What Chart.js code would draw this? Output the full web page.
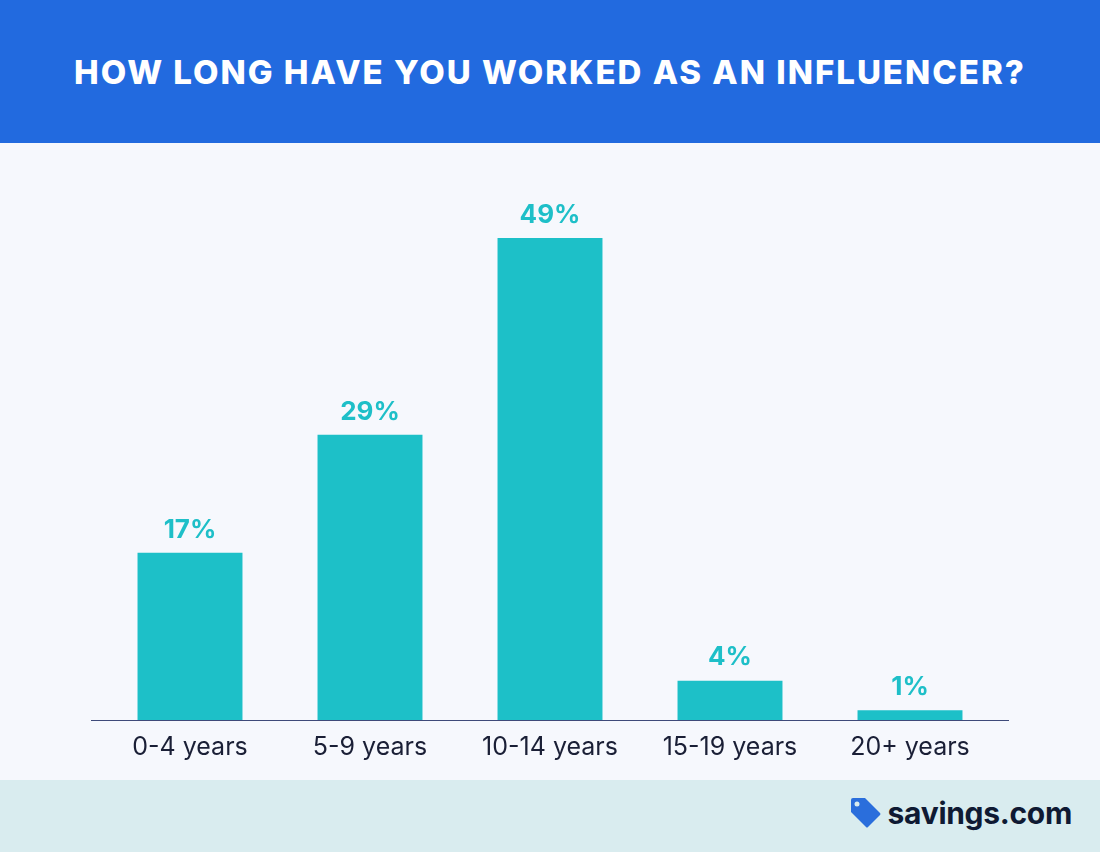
<!DOCTYPE html>
<html>
<head>
<meta charset="utf-8">
<script src="https://cdn.jsdelivr.net/npm/chart.js@4"></script>
<style>
  body { margin: 0; width: 1100px; height: 852px; overflow: hidden; font-family: Inter, "Open Sans", sans-serif; }
  #header { position: absolute; left: 0; top: 0; width: 1100px; height: 143px; background: #226ADF; color: #fff;
    font-weight: 800; font-size: 33px; text-align: center; line-height: 144px; letter-spacing: 2px; white-space: nowrap; }
  #main { position: absolute; left: 0; top: 143px; width: 1100px; height: 637px; background: #F6F8FD; }
  #footer { position: absolute; left: 0; top: 780px; width: 1100px; height: 72px; background: #D9ECEF; }
  #logo { position: absolute; right: 28px; top: 15px; display: flex; align-items: center; font-weight: 700; font-size: 30px; color: #0F1A33; letter-spacing: -0.3px; }
  #logo svg { margin-right: 6px; }
</style>
</head>
<body>
<div id="header">HOW LONG HAVE YOU WORKED AS AN INFLUENCER?</div>
<div id="main"><canvas id="chart" width="1100" height="637"></canvas></div>
<div id="footer">
  <div id="logo">
    <svg width="34" height="34" viewBox="0 0 34 34"><path d="M3 4 Q3 2 5 2 L17 2 L32 17 Q33 18 32 19 L20 31 Q19 32 18 31 L3 16 Z" fill="#2A6EDC"/><circle cx="9" cy="8" r="2.5" fill="#D9ECEF"/></svg>
    savings.com
  </div>
</div>
<script>
const categories = ['0-4 years', '5-9 years', '10-14 years', '15-19 years', '20+ years'];
const shares = [17, 29, 49, 4, 1];

// value labels above bars + baseline wider than the plot area
const decorations = {
  id: 'decorations',
  afterDatasetsDraw(chart) {
    const ctx = chart.ctx;
    const y0 = chart.scales.y.getPixelForValue(0);
    ctx.save();
    ctx.strokeStyle = '#3E4A7A';
    ctx.lineWidth = 1;
    ctx.beginPath();
    ctx.moveTo(91, y0 + 0.5);
    ctx.lineTo(1009, y0 + 0.5);
    ctx.stroke();
    ctx.fillStyle = '#1EBFC8';
    ctx.font = 'bold 26px Inter, sans-serif';
    ctx.textAlign = 'center';
    ctx.textBaseline = 'bottom';
    chart.getDatasetMeta(0).data.forEach((bar, i) => {
      ctx.fillText(shares[i] + '%', bar.x, bar.y - 10);
    });
    ctx.restore();
  }
};

new Chart(document.getElementById('chart'), {
  type: 'bar',
  data: {
    labels: categories,
    datasets: [{ data: shares, backgroundColor: '#1DC0C8', barPercentage: 0.583, categoryPercentage: 1 }]
  },
  options: {
    responsive: false,
    animation: false,
    layout: { padding: { top: 36, left: 100, right: 100, bottom: 14 } },
    plugins: { legend: { display: false }, tooltip: { enabled: false } },
    scales: {
      x: {
        grid: { display: false },
        border: { display: false },
        ticks: { color: '#1A1F36', font: { size: 25, family: 'Inter, sans-serif' }, padding: 4 }
      },
      y: { display: false, min: 0, max: 55 }
    }
  },
  plugins: [decorations]
});
</script>
</body>
</html>
